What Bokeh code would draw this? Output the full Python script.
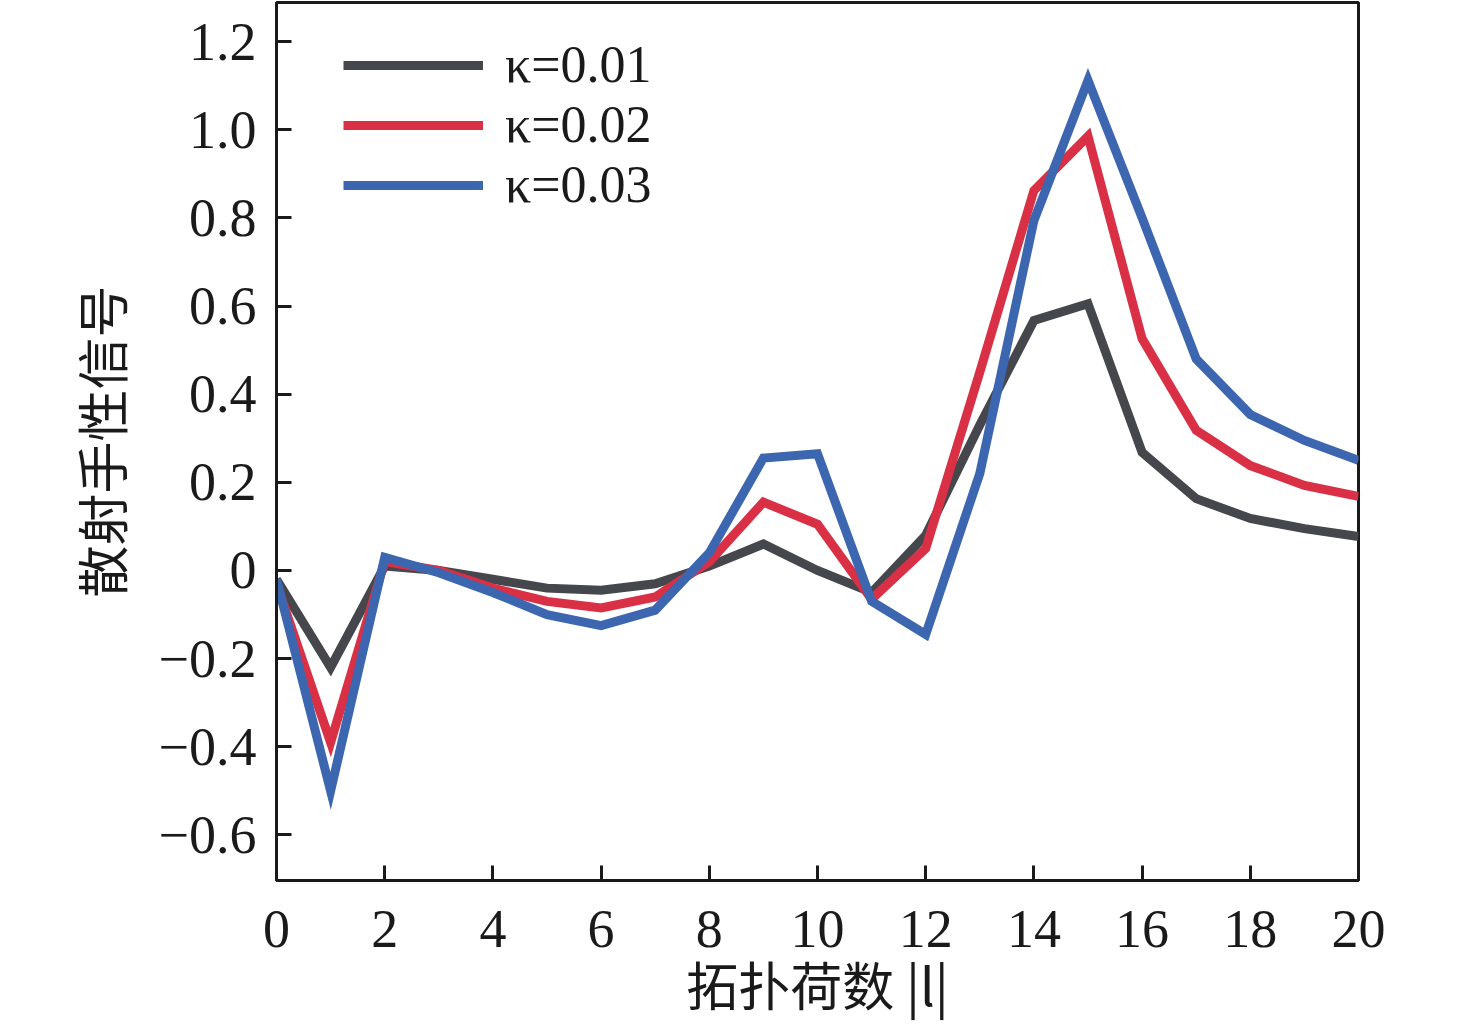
from bokeh.plotting import figure
from bokeh.models import Range1d, Legend, LegendItem, FixedTicker
from bokeh.embed import file_html
from bokeh.resources import INLINE

l_vals = list(range(0, 21))
k001 = [-0.02, -0.22, 0.01, 0.0, -0.02, -0.04, -0.045, -0.03, 0.01, 0.06, 0.0,
        -0.05, 0.08, 0.33, 0.567, 0.605, 0.268, 0.163, 0.118, 0.095, 0.077]
k002 = [-0.03, -0.39, 0.02, 0.0, -0.04, -0.07, -0.085, -0.06, 0.02, 0.155, 0.105,
        -0.065, 0.05, 0.45, 0.862, 0.985, 0.526, 0.318, 0.238, 0.193, 0.168]
k003 = [-0.02, -0.5, 0.03, -0.005, -0.05, -0.1, -0.125, -0.09, 0.04, 0.255, 0.265,
        -0.07, -0.145, 0.22, 0.794, 1.112, 0.80, 0.48, 0.354, 0.295, 0.25]
series_labels = ["κ=0.01", "κ=0.02", "κ=0.03"]
series_colors = ["#46474c", "#d93045", "#3c66b0"]
x_ticks = list(range(0, 21, 2))
y_ticks = [-0.6, -0.4, -0.2, 0.0, 0.2, 0.4, 0.6, 0.8, 1.0, 1.2]
y_tick_labels = ["−0.6", "−0.4", "−0.2", "0", "0.2", "0.4", "0.6", "0.8", "1.0", "1.2"]
x_label = "拓扑荷数 |l|"
y_label = "散射手性信号"

p = figure(width=1468, height=1024, output_backend="svg", toolbar_location=None,
           x_range=Range1d(0, 20), y_range=Range1d(-0.7033, 1.2886),
           min_border_left=276, min_border_right=110, min_border_top=2,
           min_border_bottom=144)
p.grid.visible = False
p.background_fill_color = "white"
p.border_fill_color = "white"
p.outline_line_color = "#1a1a1a"
p.outline_line_width = 3

renderers = []
for ys, c in zip([k001, k002, k003], series_colors):
    r = p.line(l_vals, ys, line_color=c, line_width=9, line_join="miter")
    renderers.append(r)

for ax in (p.xaxis[0], p.yaxis[0]):
    ax.axis_line_width = 3
    ax.axis_line_color = "#1a1a1a"
    ax.major_tick_line_width = 3
    ax.major_tick_line_color = "#1a1a1a"
    ax.major_tick_in = 15
    ax.major_tick_out = 0
    ax.minor_tick_line_color = None
    ax.major_label_text_font = "Liberation Serif"
    ax.major_label_text_font_size = "54px"
    ax.major_label_text_color = "#1a1a1a"
    ax.axis_label_text_font = "Noto Sans CJK SC"
    ax.axis_label_text_font_size = "52px"
    ax.axis_label_text_font_style = "normal"
    ax.axis_label_text_color = "#1a1a1a"

p.xaxis.ticker = FixedTicker(ticks=x_ticks)
p.yaxis.ticker = FixedTicker(ticks=y_ticks)
p.yaxis.major_label_overrides = {t: s for t, s in zip(y_ticks, y_tick_labels)}
p.xaxis.major_label_standoff = 30
p.yaxis.major_label_standoff = 20
p.xaxis.axis_label = x_label
p.yaxis.axis_label = y_label
p.xaxis.axis_label_standoff = -4
p.yaxis.axis_label_standoff = 18

legend = Legend(items=[LegendItem(label=lab, renderers=[r]) for lab, r in zip(series_labels, renderers)],
                location=(67, 666), padding=0, margin=0, spacing=1,
                glyph_width=140, glyph_height=40, label_height=40,
                label_standoff=22, label_text_font="Liberation Serif",
                label_text_font_size="52px", label_text_color="#1a1a1a",
                border_line_color=None, background_fill_alpha=0)
p.add_layout(legend)

open("out.html", "w").write(file_html(p, INLINE))
